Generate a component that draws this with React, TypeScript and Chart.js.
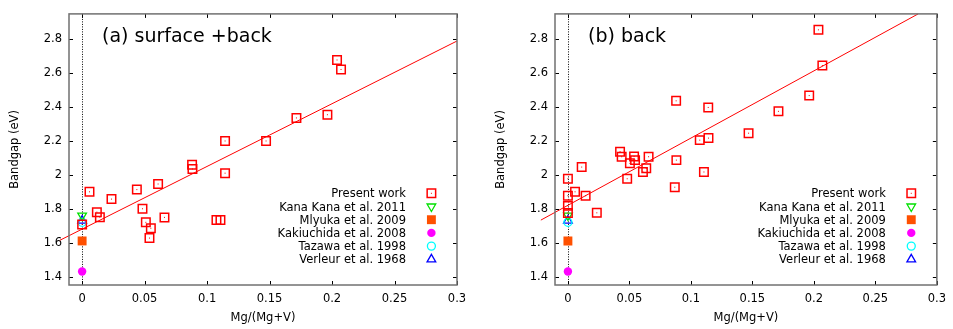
import React, { useEffect, useRef } from 'react';
import { Chart, registerables } from 'chart.js';
import { drawPoint } from 'chart.js/helpers';

Chart.register(...registerables);

const FONT = "'DejaVu Sans', sans-serif";

// ---- axes ----
const xTicks = [0, 0.05, 0.1, 0.15, 0.2, 0.25, 0.3];
const xTickLabels = ['0', '0.05', '0.1', '0.15', '0.2', '0.25', '0.3'];
const yTicks = [1.4, 1.6, 1.8, 2.0, 2.2, 2.4, 2.6, 2.8];
const yTickLabels = ['1.4', '1.6', '1.8', '2', '2.2', '2.4', '2.6', '2.8'];
const xRange = [-0.0105, 0.3];
const yRange = [1.35, 2.95];

// ---- panel (a) surface + back : present work ----
const presentAX = [0, 0.0059, 0.0118, 0.0142, 0.0235, 0.0438, 0.0483, 0.051, 0.0539, 0.055, 0.0608, 0.0659, 0.088, 0.0883, 0.1075, 0.1107, 0.1144, 0.1144, 0.1472, 0.1715, 0.1963, 0.204, 0.2072];
const presentAY = [1.707, 1.90, 1.78, 1.75, 1.857, 1.913, 1.80, 1.72, 1.627, 1.685, 1.946, 1.749, 2.06, 2.035, 1.733, 1.733, 2.01, 2.2, 2.2, 2.336, 2.355, 2.678, 2.622];
const fitAX = [-0.0178, 0.3];
const fitAY = [1.614, 2.79];

// ---- panel (b) back : present work ----
const presentBX = [0, 0, 0, 0, 0.0058, 0.0112, 0.0144, 0.0235, 0.0424, 0.0437, 0.0482, 0.0504, 0.0538, 0.0546, 0.061, 0.0637, 0.0656, 0.0869, 0.088, 0.0882, 0.1072, 0.1106, 0.1141, 0.1143, 0.1469, 0.1712, 0.1962, 0.2037, 0.2069];
const presentBY = [1.977, 1.877, 1.817, 1.775, 1.90, 2.046, 1.877, 1.776, 2.137, 2.107, 1.977, 2.068, 2.108, 2.087, 2.017, 2.039, 2.107, 1.927, 2.437, 2.087, 2.205, 2.017, 2.398, 2.217, 2.246, 2.375, 2.468, 2.856, 2.645];
const fitBX = [-0.022, 0.2848];
const fitBY = [1.733, 2.95];

// ---- literature values (both panels) ----
const litLabels = ['Kana Kana et al. 2011', 'Mlyuka et al. 2009', 'Kakiuchida et al. 2008', 'Tazawa et al. 1998', 'Verleur et al. 1968'];
const litX = [0, 0, 0, 0, 0];
const litY = [1.76, 1.61, 1.43, 1.72, 1.73];

const zip = (xs: number[], ys: number[]) => xs.map((x, i) => ({ x, y: ys[i] }));

const litStyles = [
  { pointStyle: 'triangle', pointRadius: 5, pointRotation: 180, borderColor: '#00e000', backgroundColor: 'rgba(0,0,0,0)', borderWidth: 1.3 },
  { pointStyle: 'rect', pointRadius: 6.3, pointRotation: 0, borderColor: '#ff5000', backgroundColor: '#ff5000', borderWidth: 0 },
  { pointStyle: 'circle', pointRadius: 4.2, pointRotation: 0, borderColor: '#ff00ff', backgroundColor: '#ff00ff', borderWidth: 0 },
  { pointStyle: 'circle', pointRadius: 4, pointRotation: 0, borderColor: '#00ffff', backgroundColor: 'rgba(0,0,0,0)', borderWidth: 1.3 },
  { pointStyle: 'triangle', pointRadius: 5, pointRotation: 0, borderColor: '#0000ff', backgroundColor: 'rgba(0,0,0,0)', borderWidth: 1.3 },
];

const framePlugin = {
  id: 'frame',
  beforeDatasetsDraw(chart: any) {
    const { ctx, chartArea: a, scales } = chart;
    const x0 = scales.x.getPixelForValue(0);
    ctx.save();
    ctx.strokeStyle = '#000';
    ctx.lineWidth = 1;
    ctx.setLineDash([1, 1.5]);
    ctx.beginPath();
    ctx.moveTo(Math.round(x0) + 0.5, a.top);
    ctx.lineTo(Math.round(x0) + 0.5, a.bottom);
    ctx.stroke();
    ctx.restore();
  },
  afterDatasetsDraw(chart: any, _args: any, opts: any) {
    const { ctx, chartArea: a, scales } = chart;
    ctx.save();
    // center dots of present-work squares
    chart.data.datasets.forEach((ds: any, i: number) => {
      if (ds.label !== 'Present work') return;
      const meta = chart.getDatasetMeta(i);
      ctx.fillStyle = '#ff0000';
      meta.data.forEach((p: any) => ctx.fillRect(p.x - 0.5, p.y - 0.5, 1, 1));
    });
    // ticks inward
    ctx.strokeStyle = '#000';
    ctx.lineWidth = 1;
    ctx.beginPath();
    xTicks.forEach((v) => {
      const px = Math.round(scales.x.getPixelForValue(v)) + 0.5;
      ctx.moveTo(px, a.bottom);
      ctx.lineTo(px, a.bottom - 4);
      ctx.moveTo(px, a.top);
      ctx.lineTo(px, a.top + 4);
    });
    yTicks.forEach((v) => {
      const py = Math.round(scales.y.getPixelForValue(v)) + 0.5;
      ctx.moveTo(a.left, py);
      ctx.lineTo(a.left + 4, py);
      ctx.moveTo(a.right, py);
      ctx.lineTo(a.right - 4, py);
    });
    ctx.stroke();
    // border
    ctx.strokeStyle = '#707070';
    ctx.lineWidth = 1.5;
    ctx.strokeRect(a.left, a.top, a.right - a.left, a.bottom - a.top);
    // panel title
    ctx.fillStyle = '#000';
    ctx.font = `19px ${FONT}`;
    ctx.textAlign = 'left';
    ctx.textBaseline = 'alphabetic';
    ctx.fillText(opts.title, a.left + 33, a.top + 28.5);
    // legend
    ctx.font = `11.5px ${FONT}`;
    ctx.textAlign = 'right';
    let row = 0;
    chart.data.datasets.forEach((ds: any) => {
      if (ds.label === 'fit') return;
      const cy = a.bottom - 91.7 + row * 13.2;
      ctx.fillStyle = '#000';
      ctx.fillText(ds.label, a.right - 51, cy + 4);
      ctx.fillStyle = ds.backgroundColor;
      ctx.strokeStyle = ds.borderColor;
      ctx.lineWidth = ds.borderWidth;
      drawPoint(ctx, { pointStyle: ds.pointStyle, radius: ds.pointRadius, rotation: ds.pointRotation || 0, borderWidth: ds.borderWidth }, a.right - 25.6, cy);
      if (ds.label === 'Present work') {
        ctx.fillStyle = '#ff0000';
        ctx.fillRect(a.right - 26.1, cy - 0.5, 1, 1);
      }
      row++;
    });
    ctx.restore();
  },
};

function makeConfig(title: string, px: number[], py: number[], fx: number[], fy: number[], pad: any): any {
  const datasets: any[] = [
    {
      label: 'Present work', data: zip(px, py), pointStyle: 'rect', pointRadius: 6, pointRotation: 0,
      borderColor: '#ff0000', backgroundColor: 'rgba(0,0,0,0)', borderWidth: 1.5, showLine: false,
    },
    ...litLabels.map((l, i) => ({ label: l, data: [{ x: litX[i], y: litY[i] }], showLine: false, ...litStyles[i] })),
    {
      label: 'fit', data: zip(fx, fy), showLine: true, pointRadius: 0, borderColor: '#ff0000',
      backgroundColor: '#ff0000', borderWidth: 1, clip: false, fill: false,
    },
  ];
  const tickFont = { family: FONT, size: 11.5 };
  return {
    type: 'scatter',
    data: { datasets },
    plugins: [framePlugin],
    options: {
      responsive: false,
      animation: false,
      events: [],
      devicePixelRatio: 1,
      layout: { padding: pad },
      plugins: { legend: { display: false }, tooltip: { enabled: false }, frame: { title } },
      scales: {
        x: {
          type: 'linear', min: xRange[0], max: xRange[1],
          afterBuildTicks: (s: any) => { s.ticks = xTicks.map((v) => ({ value: v })); },
          afterFit: (s: any) => { s.height = 44; },
          ticks: {
            font: tickFont, color: '#000', padding: 7, maxRotation: 0, autoSkip: false,
            callback: (v: number) => { const i = xTicks.findIndex((t) => Math.abs(t - v) < 1e-9); return i >= 0 ? xTickLabels[i] : ''; },
          },
          grid: { display: false, drawTicks: false },
          border: { display: false },
          title: { display: true, text: 'Mg/(Mg+V)', font: tickFont, color: '#000', padding: { top: 0, bottom: 4 } },
        },
        y: {
          type: 'linear', min: yRange[0], max: yRange[1],
          afterBuildTicks: (s: any) => { s.ticks = yTicks.map((v) => ({ value: v })); },
          afterFit: (s: any) => { s.width = 69; },
          ticks: {
            font: tickFont, color: '#000', padding: 7, autoSkip: false,
            callback: (v: number) => { const i = yTicks.findIndex((t) => Math.abs(t - v) < 1e-9); return i >= 0 ? yTickLabels[i] : ''; },
          },
          grid: { display: false, drawTicks: false },
          border: { display: false },
          title: { display: true, text: 'Bandgap (eV)', font: tickFont, color: '#000', padding: { top: 8, bottom: 0 } },
        },
      },
    },
  };
}

function Panel(props: { left: number; width: number; cfg: () => any }) {
  const ref = useRef<HTMLCanvasElement>(null);
  useEffect(() => {
    const chart = new Chart(ref.current as HTMLCanvasElement, props.cfg());
    return () => chart.destroy();
  }, []);
  return (
    <canvas
      ref={ref}
      width={props.width}
      height={329}
      style={{ position: 'absolute', left: props.left, top: 0, width: props.width, height: 329, display: 'block' }}
    />
  );
}

export default function App() {
  return (
    <div style={{ position: 'fixed', left: 0, top: 0, width: 953, height: 329, background: '#fff', overflow: 'hidden' }}>
      <Panel left={0} width={476} cfg={() => makeConfig('(a) surface +back', presentAX, presentAY, fitAX, fitAY, { top: 9, right: 19, left: 0, bottom: 0 })} />
      <Panel left={476} width={477} cfg={() => makeConfig('(b) back', presentBX, presentBY, fitBX, fitBY, { top: 9, right: 10, left: 10, bottom: 0 })} />
    </div>
  );
}
